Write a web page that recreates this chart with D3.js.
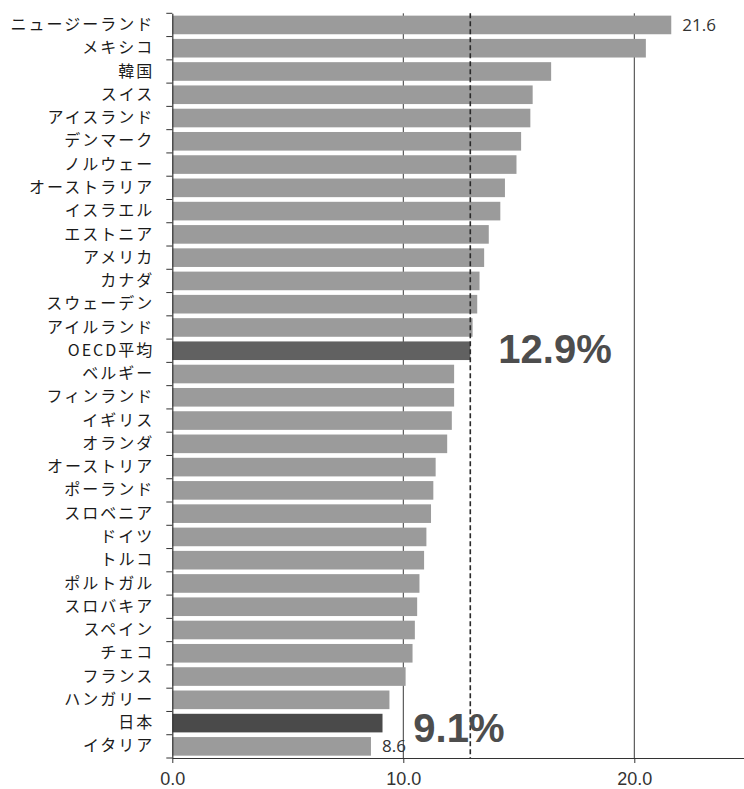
<!DOCTYPE html>
<html>
<head>
<meta charset="utf-8">
<script src="https://cdn.jsdelivr.net/npm/d3@7"></script>
<style>
  html, body { margin: 0; padding: 0; background: #ffffff; }
  svg { display: block; }
</style>
</head>
<body>
<script>
// ---- data ----
const categories = [
  "ニュージーランド", "メキシコ", "韓国", "スイス", "アイスランド", "デンマーク",
  "ノルウェー", "オーストラリア", "イスラエル", "エストニア", "アメリカ", "カナダ",
  "スウェーデン", "アイルランド", "OECD平均", "ベルギー", "フィンランド", "イギリス",
  "オランダ", "オーストリア", "ポーランド", "スロベニア", "ドイツ", "トルコ",
  "ポルトガル", "スロバキア", "スペイン", "チェコ", "フランス", "ハンガリー",
  "日本", "イタリア"
];
const values = [
  21.6, 20.5, 16.4, 15.6, 15.5, 15.1,
  14.9, 14.4, 14.2, 13.7, 13.5, 13.3,
  13.2, 13.0, 12.9, 12.2, 12.2, 12.1,
  11.9, 11.4, 11.3, 11.2, 11.0, 10.9,
  10.7, 10.6, 10.5, 10.4, 10.1, 9.4,
  9.1, 8.6
];
const oecdCategory = "OECD平均";
const japanCategory = "日本";
const labeledCategories = ["ニュージーランド", "イタリア"];
const xTicks = [0, 10, 20];
const gridValues = [10, 20];
const oecdAverage = 12.9;
const calloutTexts = ["12.9%", "9.1%"];

// ---- layout ----
const W = 744, H = 789;
const svg = d3.select("body").append("svg").attr("width", W).attr("height", H);

const x = d3.scaleLinear().domain([0, 25]).range([172.3, 172.3 + 25 * 23.1]);
const y = d3.scaleBand().domain(categories).range([13.3, 758])
  .paddingInner(0.2).paddingOuter(0.1);
const plotTop = y.range()[0], plotBottom = y.range()[1];

// gridlines (behind bars)
svg.append("g").selectAll("line").data(gridValues).join("line")
  .attr("x1", d => x(d)).attr("x2", d => x(d))
  .attr("y1", plotTop).attr("y2", plotBottom)
  .attr("stroke", "#3a3a3a").attr("stroke-width", 1);

// bars
const data = categories.map((c, i) => ({ c, v: values[i] }));
svg.append("g").selectAll("rect").data(data).join("rect")
  .attr("x", x(0))
  .attr("y", d => y(d.c))
  .attr("width", d => x(d.v) - x(0))
  .attr("height", y.bandwidth())
  .attr("fill", d => d.c === oecdCategory ? "#616161" : d.c === japanCategory ? "#4a4a4a" : "#9b9b9b");

// OECD average dashed line
svg.append("line")
  .attr("x1", x(oecdAverage)).attr("x2", x(oecdAverage))
  .attr("y1", plotTop).attr("y2", plotBottom)
  .attr("stroke", "#2a2a2a").attr("stroke-width", 1.6)
  .attr("stroke-dasharray", "5,3");

// x axis
const xAxis = d3.axisBottom(x).tickValues(xTicks).tickFormat(d3.format(".1f"))
  .tickSizeInner(5).tickSizeOuter(0).tickPadding(9);
const gx = svg.append("g").attr("transform", `translate(0,${plotBottom})`).call(xAxis);
gx.select(".domain").attr("stroke", "#333");
gx.selectAll(".tick line").attr("stroke", "#333");
gx.selectAll(".tick text")
  .attr("fill", "#333")
  .style("font-family", "'Liberation Sans', Arial, sans-serif")
  .style("font-size", "18px");

// y axis
const yAxis = d3.axisLeft(y).tickSize(0).tickPadding(18);
const gy = svg.append("g").attr("transform", `translate(${x(0)},0)`).call(yAxis);
gy.select(".domain").attr("stroke", "#333").attr("stroke-width", 1.2);
gy.selectAll(".tick text")
  .attr("fill", "#1a1a1a")
  .style("font-family", "'Noto Sans CJK JP', sans-serif")
  .style("font-size", "16px")
  .style("letter-spacing", "2px");
// category boundary ticks
const boundaries = d3.range(categories.length + 1).map(i => plotTop + i * y.step());
svg.append("g").selectAll("line").data(boundaries).join("line")
  .attr("x1", x(0) - 6).attr("x2", x(0))
  .attr("y1", d => d).attr("y2", d => d)
  .attr("stroke", "#333").attr("stroke-width", 1);

// value labels
svg.append("g").selectAll("text").data(data.filter(d => labeledCategories.includes(d.c))).join("text")
  .attr("x", d => x(d.v) + 11)
  .attr("y", d => y(d.c) + y.bandwidth() / 2)
  .attr("dy", "0.36em")
  .attr("fill", "#333")
  .style("font-family", "'Open Sans', sans-serif")
  .style("font-size", "17px")
  .text(d => d.v.toFixed(1));

// callouts
const calloutAnchors = [
  { x: x(oecdAverage) + 28, y: y(oecdCategory) + y.bandwidth() / 2 + 12 },
  { x: x(10) + 10, y: y(japanCategory) + y.bandwidth() / 2 + 19 }
];
svg.append("g").selectAll("text").data(calloutTexts).join("text")
  .attr("x", (d, i) => calloutAnchors[i].x)
  .attr("y", (d, i) => calloutAnchors[i].y)
  .attr("fill", "#4d4d4d")
  .style("font-family", "'Liberation Sans', Arial, sans-serif")
  .style("font-weight", "bold")
  .style("font-size", "40px")
  .text(d => d);
</script>
</body>
</html>
